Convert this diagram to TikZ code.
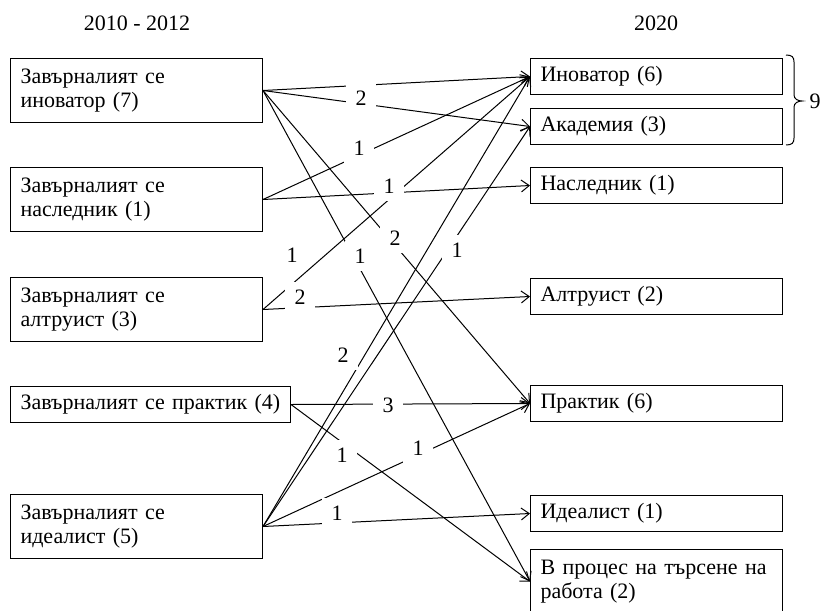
\documentclass[tikz,border=0pt]{standalone}
\usepackage{fontspec}
\setmainfont{Liberation Serif}
\usetikzlibrary{arrows.meta}

\begin{document}
\begin{tikzpicture}[x=0.5pt, y=-0.5pt, line width=0.5pt,
    every node/.style={font=\fontsize{11}{12}\selectfont},
    stagebox/.style={draw, anchor=north west, align=left, inner xsep=5pt, inner ysep=0pt, text width=116pt},
    twoline/.style={stagebox, minimum height=32pt},
    oneline/.style={stagebox, minimum height=18pt},
    flowarrow/.style={-{Straight Barb[length=4pt,width=6pt]}},
    cntlabel/.style={fill=white, inner sep=0pt, minimum width=15pt, minimum height=15pt}]
    \useasboundingbox (0,0) rectangle (822,610);

    % Column headers
    \node (hOld) at (137,23) {2010 - 2012};
    \node (hNew) at (656,23) {2020};

    % 2010 - 2012
    \node[twoline] (oldInov) at (10,58) {Завърналият се\\иноватор (7)};
    \node[twoline] (oldHeir) at (10,167) {Завърналият се\\наследник (1)};
    \node[twoline] (oldAltr) at (10,277) {Завърналият се\\алтруист (3)};
    \node[oneline, text width=130pt] (oldPrac) at (10,386) {Завърналият~се~практик~(4)};
    \node[twoline] (oldIdeal) at (10,494) {Завърналият се\\идеалист (5)};

    % 2020
    \node[oneline] (newInov) at (530,58) {Иноватор (6)};
    \node[oneline] (newAcad) at (530,108) {Академия (3)};
    \node[oneline] (newHeir) at (530,167) {Наследник (1)};
    \node[oneline] (newAltr) at (530,278) {Алтруист (2)};
    \node[oneline] (newPrac) at (530,385) {Практик (6)};
    \node[oneline] (newIdeal) at (530,495) {Идеалист (1)};
    \node[twoline] (newSearch) at (530,549) {В~процес~на~търсене~на\\работа (2)};

    % Brace over the first two
    \draw (786,55) .. controls (792,55) and (794,57) .. (794,62) -- (794,95)
        .. controls (794,99) and (798,101) .. (802,101)
        .. controls (798,101) and (794,103) .. (794,107) -- (794,138)
        .. controls (794,143) and (792,145) .. (786,145);
    \node (sumTop) at (815,101) {9};

    % Flows
    \draw[flowarrow] (oldInov.east) -- (newInov.west);
    \draw[flowarrow] (oldInov.east) -- (newAcad.west);
    \draw[flowarrow] (oldInov.east) -- (newPrac.west);
    \draw[flowarrow] (oldInov.east) -- (newSearch.west);
    \draw[flowarrow] (oldHeir.east) -- (newInov.west);
    \draw[flowarrow] (oldHeir.east) -- (newHeir.west);
    \draw[flowarrow] (oldAltr.east) -- (newInov.west);
    \draw[flowarrow] (oldAltr.east) -- (newAltr.west);
    \draw[flowarrow] (oldPrac.east) -- (newPrac.west);
    \draw[flowarrow] (oldPrac.east) -- (newSearch.west);
    \draw[flowarrow] (oldIdeal.east) -- (newInov.west);
    \draw[flowarrow] (oldIdeal.east) -- (newAcad.west);
    \draw[flowarrow] (oldIdeal.east) -- (newPrac.west);
    \draw[flowarrow] (oldIdeal.east) -- (newIdeal.west);

    % Counts
    \node[cntlabel] (cInovAcad) at (361,98) {2};
    \node[cntlabel] (cHeirInov) at (359,148) {1};
    \node[cntlabel] (cHeirHeir) at (389,186) {1};
    \node[cntlabel] (cAltrInov) at (292,255) {1};
    \node[cntlabel] (cInovSearch) at (360,256) {1};
    \node[cntlabel] (cInovPrac) at (395,238) {2};
    \node[cntlabel] (cIdealAcad) at (457,250) {1};
    \node[cntlabel] (cAltrAltr) at (300,297) {2};
    \node[cntlabel] (cIdealInov) at (343,355) {2};
    \node[cntlabel] (cPracPrac) at (388,405) {3};
    \node[cntlabel] (cIdealPrac) at (418,448) {1};
    \node[cntlabel] (cPracSearch) at (342,455) {1};
    \node[cntlabel] (cIdealIdeal) at (337,513) {1};
\end{tikzpicture}
\end{document}
